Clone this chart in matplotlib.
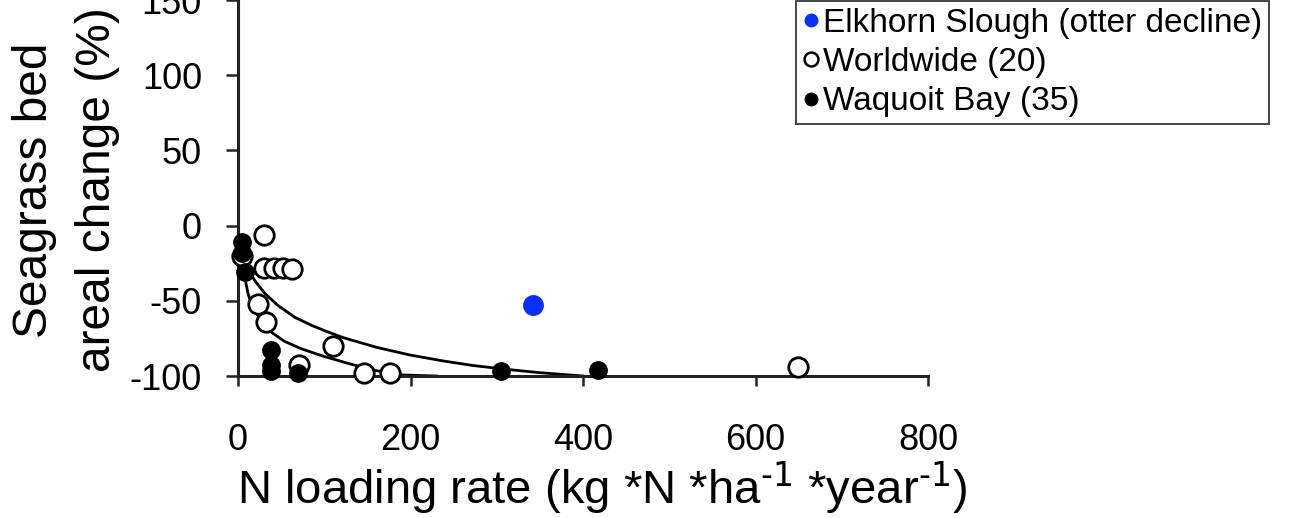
import matplotlib
matplotlib.use('Agg')
import matplotlib.pyplot as plt
from matplotlib.lines import Line2D

plt.rcParams['font.family'] = ['Liberation Sans', 'DejaVu Sans']
plt.rcParams['mathtext.default'] = 'regular'
plt.rcParams['axes.unicode_minus'] = False

# Worldwide (20) - open circles
world_x = [5, 30, 30, 42, 52, 63, 23, 33, 110, 71, 146, 176, 649]
world_y = [-20, -6, -28, -28, -28, -29, -52, -64, -80, -93, -98, -98, -94]

# Waquoit Bay (35) - filled black
waq_x = [5, 5, 8, 38, 38, 38, 69, 305, 417]
waq_y = [-11, -18, -31, -83, -93, -97, -98, -97, -96]

# Elkhorn Slough (otter decline)
elk_x = [342]
elk_y = [-53]

# fitted curves
upper_x = [10, 20, 31, 46, 66, 86, 101, 122, 161, 199, 238, 272, 310, 350, 400]
upper_y = [-28, -37, -45, -53, -61, -66.5, -70, -74.5, -81, -86, -90, -93, -95.5, -97.8, -100]
lower_x = [8, 12, 17, 28, 39, 54, 74, 97, 130, 161, 190, 230]
lower_y = [-35, -46, -54, -64, -71, -77, -82, -86.5, -92, -96.5, -99.3, -100]

xticks = [0, 200, 400, 600, 800]
yticks = [-100, -50, 0, 50, 100, 150]

W, H = 1299, 518
fig = plt.figure(figsize=(W / 100, H / 100), dpi=100)
ax = fig.add_axes([238 / W, 142 / H, 690 / W, 376 / H])

ax.plot(upper_x, upper_y, color='black', lw=2.0, zorder=2, clip_on=False)
ax.plot(lower_x, lower_y, color='black', lw=2.0, zorder=2, clip_on=False)

ax.plot(world_x, world_y, 'o', ms=14, mfc='white', mec='black', mew=2.0,
        zorder=3, clip_on=False)
ax.plot(waq_x, waq_y, 'o', ms=12.5, mfc='black', mec='black', zorder=4, clip_on=False)
ax.plot(elk_x, elk_y, 'o', ms=14, mfc='#0b2ff5', mec='#0b2ff5', zorder=4, clip_on=False)

ax.set_xlim(0, 800)
ax.set_ylim(-100, 150)
ax.set_xticks(xticks)
ax.set_yticks(yticks)
ax.spines['top'].set_visible(False)
ax.spines['right'].set_visible(False)
for s in ['left', 'bottom']:
    ax.spines[s].set_linewidth(2.2)
    ax.spines[s].set_color('#222222')
ax.tick_params(axis='y', direction='out', length=9, width=1.8, pad=17,
               labelsize=26, color='#222222')
ax.tick_params(axis='x', direction='out', length=7, width=1.8, pad=27,
               labelsize=26, color='#222222')

fig.text(66 / W, 1 - 190 / H, 'Seagrass bed\nareal change (%)', rotation=90,
         ha='center', va='center', multialignment='center', fontsize=34.5,
         linespacing=1.5)
fig.text(602 / W, 1 - 488 / H, r'N loading rate (kg *N *ha$^{\text{-1}}$ *year$^{\text{-1}}$)',
         ha='center', va='center', fontsize=34)

handles = [
    Line2D([], [], ls='none', marker='o', ms=9, mfc='#0b2ff5', mec='#0b2ff5'),
    Line2D([], [], ls='none', marker='o', ms=10, mfc='white', mec='black', mew=1.8),
    Line2D([], [], ls='none', marker='o', ms=9, mfc='black', mec='black'),
]
labels = ['Elkhorn Slough (otter decline)', 'Worldwide (20)', 'Waquoit Bay (35)']
leg = ax.legend(handles, labels, loc='lower left',
                bbox_to_anchor=(796 / W, 1 - 124 / H), bbox_transform=fig.transFigure,
                fontsize=24, handlelength=0.5, handletextpad=0.1, labelspacing=0.25,
                borderpad=0.2, borderaxespad=0, fancybox=False, framealpha=1,
                edgecolor='#444444')
leg.get_frame().set_linewidth(1.4)

fig.savefig('out.png', dpi=100)
